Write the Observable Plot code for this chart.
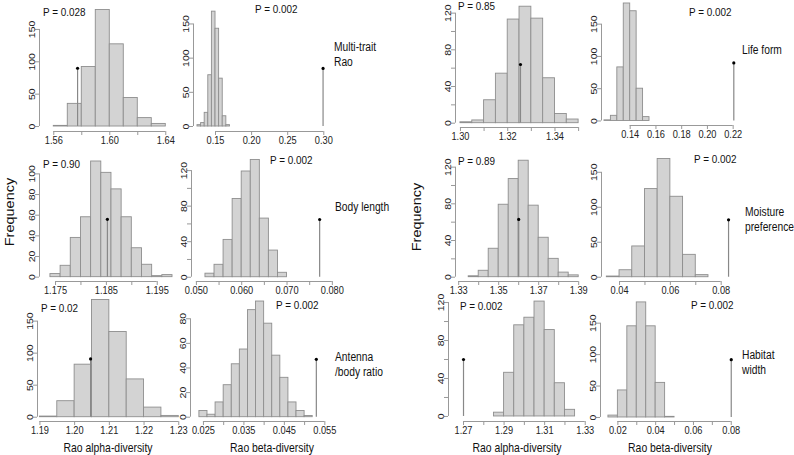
<!DOCTYPE html>
<html><head><meta charset="utf-8">
<script src="https://cdn.jsdelivr.net/npm/d3@7"></script>
<script src="https://cdn.jsdelivr.net/npm/@observablehq/plot@0.6"></script>
<style>
body{margin:0;background:#fff;}
#chart{position:relative;width:794px;height:455px;overflow:hidden;font-family:"Liberation Sans",Arial,sans-serif;color:#111;}
.panel{position:absolute;}
.lbl{position:absolute;white-space:nowrap;line-height:1;}
</style></head><body><div id="chart"></div>
<script>
// ---------- data ----------
const mtAlphaBreaks = [1.56,1.57,1.58,1.59,1.60,1.61,1.62,1.63,1.64];
const mtAlphaCounts = [1,35,92,180,127,44,13,4];
const mtBetaBreaks = [0.125,0.130,0.135,0.140,0.145,0.150,0.155,0.160,0.165,0.170];
const mtBetaCounts = [2,5,20,75,168,143,70,15,2];
const blAlphaBreaks = [1.174,1.176,1.178,1.180,1.182,1.184,1.186,1.188,1.190,1.192,1.194,1.196,1.198];
const blAlphaCounts = [3,11,38,58,112,101,85,58,28,12,1,2];
const blBetaBreaks = [0.052,0.054,0.056,0.058,0.060,0.062,0.064,0.066,0.068,0.070];
const blBetaCounts = [4,14,42,88,119,132,66,30,5];
const abAlphaBreaks = [1.190,1.195,1.200,1.205,1.210,1.215,1.220,1.225,1.230];
const abAlphaCounts = [1,25,82,183,133,59,15,2];
const abBetaBreaks = [0.024,0.026,0.028,0.030,0.032,0.034,0.036,0.038,0.040,0.042,0.044,0.046,0.048,0.050,0.052];
const abBetaCounts = [5,2,12,26,43,55,87,94,76,50,32,12,5,1];
const lfAlphaBreaks = [1.300,1.305,1.310,1.315,1.320,1.325,1.330,1.335,1.340,1.345,1.350];
const lfAlphaCounts = [1,3,25,54,113,127,114,49,10,4];
const lfBetaBreaks = [0.120,0.125,0.130,0.135,0.140,0.145,0.150,0.155];
const lfBetaCounts = [1,8,83,182,170,50,6];
const mpAlphaBreaks = [1.335,1.340,1.345,1.350,1.355,1.360,1.365,1.370,1.375,1.380,1.385,1.390];
const mpAlphaCounts = [1,7,31,79,107,127,78,43,20,5,2];
const mpBetaBreaks = [0.035,0.040,0.045,0.050,0.055,0.060,0.065,0.070,0.075];
const mpBetaCounts = [1,10,44,126,169,115,32,3];
const hwAlphaBreaks = [1.285,1.290,1.295,1.300,1.305,1.310,1.315,1.320,1.325];
const hwAlphaCounts = [4,46,96,104,121,91,35,7];
const hwBetaBreaks = [0.015,0.020,0.025,0.030,0.035,0.040,0.045,0.050];
const hwBetaCounts = [3,43,145,183,145,55,1];

// observed values (vertical line + dot) and P values; order: multi-trait, body length, antenna, life form, moisture, habitat
const obsAlpha = [1.577,1.1852,1.2046,1.3254,1.360,1.270];
const obsAlphaFreq = [90,56,91,64,63,60];
const obsBeta = [0.299,0.0772,0.0529,0.2205,0.0829,0.080];
const obsBetaFreq = [85,65,47,90,82,92];
const pAlpha = ["P = 0.028","P = 0.90","P = 0.02","P = 0.85","P = 0.89","P = 0.002"];
const pBeta = ["P = 0.002","P = 0.002","P = 0.002","P = 0.002","P = 0.002","P = 0.002"];
const traitLabels = [["Multi-trait","Rao"],["Body length"],["Antenna","/body ratio"],["Life form"],["Moisture","preference"],["Habitat","width"]];
const yTitle = "Frequency";
const xTitles = ["Rao alpha-diversity","Rao beta-diversity"];

// tick marks and tick labels per panel
const xTicksA = [
  [1.56,1.58,1.60,1.62,1.64],
  [1.175,1.180,1.185,1.190,1.195],
  [1.19,1.20,1.21,1.22,1.23],
  [1.30,1.31,1.32,1.33,1.34,1.35],
  [1.33,1.34,1.35,1.36,1.37,1.38,1.39],
  [1.27,1.28,1.29,1.30,1.31,1.32,1.33]];
const xLabelsA = [
  ["1.56","1.60","1.64"],
  ["1.175","1.185","1.195"],
  ["1.19","1.20","1.21","1.22","1.23"],
  ["1.30","1.32","1.34"],
  ["1.33","1.35","1.37","1.39"],
  ["1.27","1.29","1.31","1.33"]];
const xTicksB = [
  [0.15,0.20,0.25,0.30],
  [0.050,0.055,0.060,0.065,0.070,0.075,0.080],
  [0.025,0.030,0.035,0.040,0.045,0.050,0.055],
  [0.14,0.16,0.18,0.20,0.22],
  [0.04,0.05,0.06,0.07,0.08],
  [0.02,0.03,0.04,0.05,0.06,0.07,0.08]];
const xLabelsB = [
  ["0.15","0.20","0.25","0.30"],
  ["0.050","0.060","0.070","0.080"],
  ["0.025","0.035","0.045","0.055"],
  ["0.14","0.16","0.18","0.20","0.22"],
  ["0.04","0.06","0.08"],
  ["0.02","0.04","0.06","0.08"]];
const yTicksA = [[0,50,100,150],[0,20,40,60,80,100],[0,50,100,150],[0,20,40,60,80,100,120],[0,20,40,60,80,100,120],[0,20,40,60,80,100,120]];
const yLabelsA = [["0","50","100","150"],["0","20","40","60","80","100"],["0","50","100","150"],["0","40","80","120"],["0","40","80","120"],["0","40","80","120"]];
const yTicksB = [[0,50,100,150],[0,20,40,60,80,100,120],[0,20,40,60,80],[0,50,100,150],[0,50,100,150],[0,50,100,150]];
const yLabelsB = [["0","50","100","150"],["0","40","80","120"],["0","20","40","60","80"],["0","50","100","150"],["0","50","100","150"],["0","50","100","150"]];

const alphaBreaks = [mtAlphaBreaks,blAlphaBreaks,abAlphaBreaks,lfAlphaBreaks,mpAlphaBreaks,hwAlphaBreaks];
const alphaCounts = [mtAlphaCounts,blAlphaCounts,abAlphaCounts,lfAlphaCounts,mpAlphaCounts,hwAlphaCounts];
const betaBreaks = [mtBetaBreaks,blBetaBreaks,abBetaBreaks,lfBetaBreaks,mpBetaBreaks,hwBetaBreaks];
const betaCounts = [mtBetaCounts,blBetaCounts,abBetaCounts,lfBetaCounts,mpBetaCounts,hwBetaCounts];

// ---------- layout (pixel boxes of plot regions and scale domains) ----------
const layoutA = [
  {L:39,R:172,T:5,B:131,x:[1.5498,1.6448],y:[-7.7,187]},
  {L:39,R:172,T:155,B:281,x:[1.17185,1.198],y:[-4.2,117.8]},
  {L:37,R:180,T:295,B:421,x:[1.1893,1.2305],y:[-6.7,190]},
  {L:455,R:580,T:2,B:127,x:[1.2979,1.3508],y:[-4.7,131.6]},
  {L:455,R:580,T:155,B:281,x:[1.3284,1.3909],y:[-4.7,132.7]},
  {L:448,R:590,T:295,B:421,x:[1.2626,1.3326],y:[-5.3,127.4]}];
const layoutB = [
  {L:193,R:330,T:5,B:131,x:[0.1195,0.3093],y:[-7.3,177]},
  {L:191,R:335,T:155,B:281,x:[0.04892,0.0807],y:[-4.8,137]},
  {L:190,R:330,T:295,B:421,x:[0.0218,0.0564],y:[-3.5,98.9]},
  {L:601,R:740,T:3,B:125,x:[0.1177,0.2257],y:[-7,182]},
  {L:601,R:740,T:155,B:281,x:[0.0329,0.0876],y:[-6.1,174]},
  {L:600,R:740,T:295,B:421,x:[0.0108,0.0849],y:[-6.4,194]}];
const pPosA = [[43,13],[43,165],[41,309],[458,7],[458,162],[460,307]];
const pPosB = [[255,10],[270,161],[276,306],[689,13],[694,160],[691,306]];
const traitPos = [[334,47],[335,207],[335,357],[742,50],[745,212],[742,355]];
const yTitlePos = [[10,212],[417,217]];
const xTitlePos = [[108,447],[272,447],[517,447],[670,447]];

const FONT = '"Liberation Sans",Arial,sans-serif';
const chart = document.getElementById("chart");

function squeeze(svg, sel, sx, sy) {
  svg.querySelectorAll(sel).forEach(t => {
    const tr = t.getAttribute("transform");
    if (tr) t.setAttribute("transform", tr + ` scale(${sx},${sy})`);
  });
}

function panel(g, breaks, counts, obsX, obsY, xTicks, xLabels, yTicks, yLabels) {
  const bins = counts.map((c,k)=>({x1:breaks[k], x2:breaks[k+1], n:c}));
  const mL=32,mR=6,mT=4,mB=24;
  const dec = (xLabels[0].split(".")[1]||"").length;
  const fmtX = d => { const s = d.toFixed(dec); return xLabels.includes(s) ? s : ""; };
  const fmtY = d => yLabels.includes(String(d)) ? String(d) : "";
  const svg = Plot.plot({
    width: g.R-g.L+mL+mR, height: g.B-g.T+mT+mB,
    marginLeft:mL, marginRight:mR, marginTop:mT, marginBottom:mB,
    x:{domain:g.x}, y:{domain:g.y},
    style:{fontFamily:FONT, fontSize:"10.5px", background:"transparent", color:"#111", overflow:"visible"},
    marks:[
      Plot.rect(bins,{x1:"x1",x2:"x2",y1:0,y2:"n",fill:"#d3d3d3",stroke:"#8e8e8e",strokeWidth:0.9}),
      Plot.ruleX([obsX],{y1:0,y2:obsY,stroke:"#888",strokeWidth:1.2}),
      Plot.dot([{x:obsX,y:obsY}],{x:"x",y:"y",r:1.6,fill:"#000",stroke:"none"}),
      Plot.ruleY([g.y[0]],{x1:xTicks[0],x2:xTicks[xTicks.length-1],stroke:"#999"}),
      Plot.ruleX([g.x[0]],{y1:yTicks[0],y2:yTicks[yTicks.length-1],stroke:"#999"}),
      Plot.axisX({ticks:xTicks,tickFormat:fmtX,tickSize:4,tickPadding:1,stroke:"#999",fill:"#222",fontSize:10.5}),
      Plot.axisY({ticks:yTicks,tickFormat:fmtY,tickSize:4,tickPadding:1,tickRotate:-90,stroke:"#999",fill:"#222",fontSize:10.5})
    ]
  });
  squeeze(svg, 'g[aria-label="x-axis tick label"] text', 0.88, 1);
  squeeze(svg, 'g[aria-label="y-axis tick label"] text', 1, 0.9);
  const wrap = document.createElement("div");
  wrap.className = "panel";
  wrap.style.left = (g.L-mL)+"px";
  wrap.style.top = (g.T-mT)+"px";
  wrap.appendChild(svg);
  chart.appendChild(wrap);
}

for (let i=0;i<6;i++) {
  panel(layoutA[i], alphaBreaks[i], alphaCounts[i], obsAlpha[i], obsAlphaFreq[i], xTicksA[i], xLabelsA[i], yTicksA[i], yLabelsA[i]);
  panel(layoutB[i], betaBreaks[i], betaCounts[i], obsBeta[i], obsBetaFreq[i], xTicksB[i], xLabelsB[i], yTicksB[i], yLabelsB[i]);
}

function label(text, x, y, size, transform, origin) {
  const d = document.createElement("div");
  d.className = "lbl";
  d.style.left = x+"px"; d.style.top = y+"px";
  d.style.fontSize = size+"px";
  d.style.transformOrigin = origin;
  d.style.transform = transform;
  d.textContent = text;
  chart.appendChild(d);
  return d;
}
for (let i=0;i<6;i++) {
  label(pAlpha[i], pPosA[i][0], pPosA[i][1], 11.5, "translateY(-50%) scaleX(0.86)", "left top");
  label(pBeta[i], pPosB[i][0], pPosB[i][1], 11.5, "translateY(-50%) scaleX(0.86)", "left top");
  traitLabels[i].forEach((t,k)=> label(t, traitPos[i][0], traitPos[i][1]+k*15, 12.5, "translateY(-50%) scaleX(0.82)", "left top"));
}
yTitlePos.forEach(p => label(yTitle, p[0], p[1], 14.5, "translate(-50%,-50%) rotate(-90deg) scaleY(0.85)", "center center"));
xTitlePos.forEach((p,k) => label(xTitles[k%2], p[0], p[1], 13, "translate(-50%,-50%) scaleX(0.8)", "center center"));
</script></body></html>
